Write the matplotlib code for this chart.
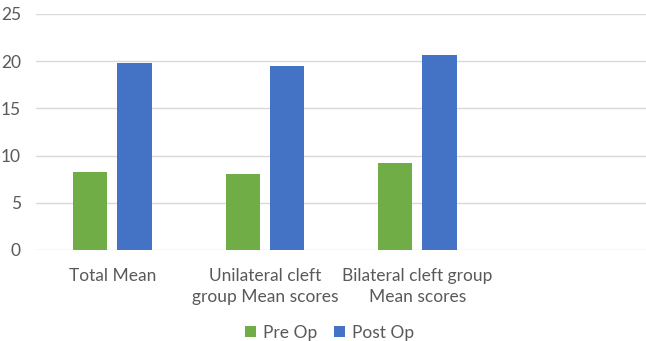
import matplotlib
matplotlib.use("Agg")
import matplotlib.pyplot as plt
import numpy as np

categories = ["Total Mean", "Unilateral cleft\ngroup Mean scores", "Bilateral cleft group\nMean scores", ""]
pre_op = [8.3, 8.0, 9.2, np.nan]
post_op = [19.8, 19.5, 20.7, np.nan]
yticks = [0, 5, 10, 15, 20, 25]

plt.rcParams['font.family'] = ['Lato', 'DejaVu Sans']
fig = plt.figure(figsize=(6.46, 3.41), dpi=100)
ax = fig.add_axes([0.056, 0.267, 0.944, 0.692])

x = np.arange(len(categories))
w = 0.225
off = 0.145
ax.bar(x - off, pre_op, w, color="#70AD47", label="Pre Op", zorder=3)
ax.bar(x + off, post_op, w, color="#4472C4", label="Post Op", zorder=3)

ax.set_xlim(-0.5, len(categories) - 0.5)
ax.set_ylim(0, 25)
ax.set_yticks(yticks)
ax.yaxis.grid(True, color="#d9d9d9", linewidth=1.0, zorder=0)
ax.set_axisbelow(True)
for s in ax.spines.values():
    s.set_visible(False)
ax.tick_params(axis='both', length=0, colors="#595959", labelsize=12.5)
ax.tick_params(axis='y', pad=11)
ax.tick_params(axis='x', pad=13)
ax.set_xticks(x)
ax.set_xticklabels(categories, linespacing=1.35)

fig.legend(loc="lower center", bbox_to_anchor=(0.51, -0.045), ncol=2, frameon=False,
           fontsize=12.5, handlelength=0.6, handleheight=0.6, handletextpad=0.4,
           columnspacing=1.0, labelcolor="#595959")

fig.savefig("out.png", dpi=100)
